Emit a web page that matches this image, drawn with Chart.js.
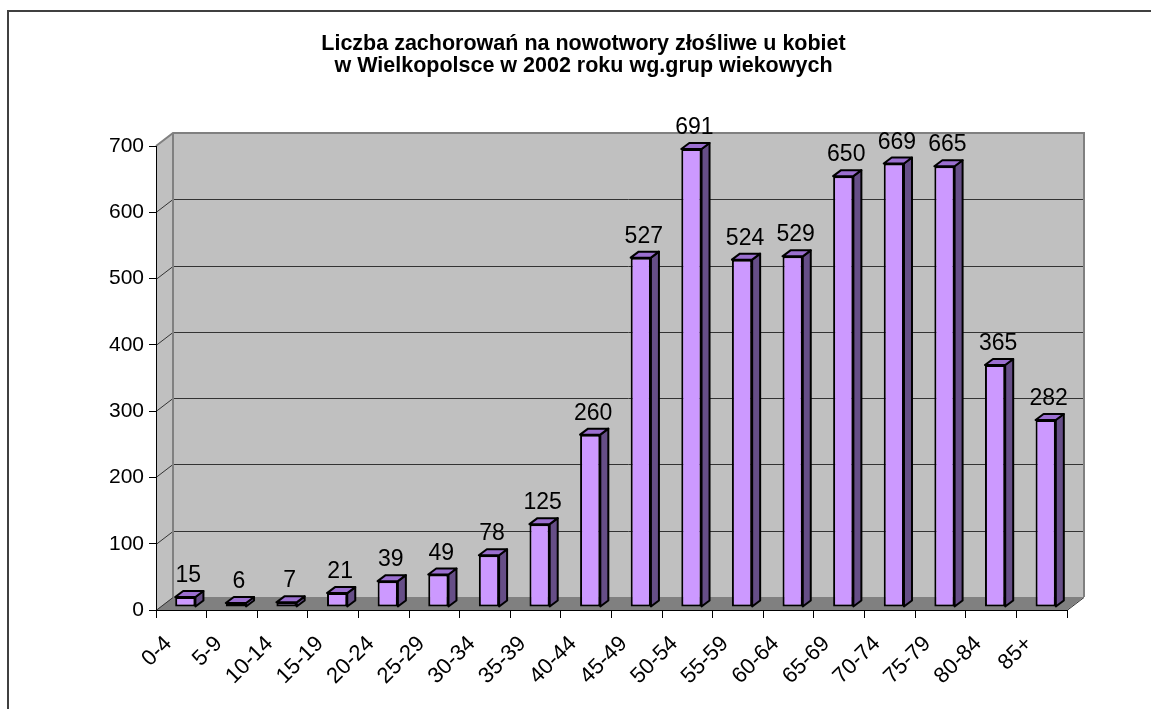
<!DOCTYPE html>
<html>
<head>
<meta charset="utf-8">
<script src="https://cdn.jsdelivr.net/npm/chart.js@4/dist/chart.umd.min.js"></script>
<style>
    html, body { margin: 0; padding: 0; background: #fff; overflow: hidden; }
    #wrap { position: relative; width: 1151px; height: 709px; }
    #frame { position: absolute; left: 7px; top: 10px; width: 1200px; height: 800px;
             border: 2px solid #404040; box-sizing: border-box; pointer-events: none; }
</style>
</head>
<body>
<div id="wrap">
    <canvas id="cancer-chart" width="1151" height="709"></canvas>
    <div id="frame"></div>
</div>
<script>
const ageGroups = ['0-4', '5-9', '10-14', '15-19', '20-24', '25-29', '30-34', '35-39', '40-44',
    '45-49', '50-54', '55-59', '60-64', '65-69', '70-74', '75-79', '80-84', '85+'];
const cases = [15, 6, 7, 21, 39, 49, 78, 125, 260, 527, 691, 524, 529, 650, 669, 665, 365, 282];
const titleLines = ['Liczba zachorowań na nowotwory złośliwe u kobiet',
    'w Wielkopolsce w 2002 roku wg.grup wiekowych'];

// depth of the 3d walls and of the bars
const WALL_DX = 17, WALL_DY = 13;
const BAR_X = 4, BAR_Y = 3;
const BAR_DX = 8, BAR_DY = 6;

function poly(ctx, pts) {
    ctx.beginPath();
    ctx.moveTo(pts[0][0], pts[0][1]);
    for (let i = 1; i < pts.length; i++) ctx.lineTo(pts[i][0], pts[i][1]);
    ctx.closePath();
}

const walls3d = {
    id: 'walls3d',
    beforeDraw(chart) {
        const { ctx, chartArea: a, scales: { y } } = chart;
        const L = a.left, R = a.right, T = a.top, B = a.bottom;
        ctx.save();
        ctx.fillStyle = '#c0c0c0';
        ctx.fillRect(L + WALL_DX, T - WALL_DY, R - L, B - T);
        poly(ctx, [[L, T], [L + WALL_DX, T - WALL_DY], [L + WALL_DX, B - WALL_DY], [L, B]]);
        ctx.fill();
        ctx.fillStyle = '#808080';
        poly(ctx, [[L, B], [R, B], [R + WALL_DX, B - WALL_DY], [L + WALL_DX, B - WALL_DY]]);
        ctx.fill();

        ctx.strokeStyle = '#333';
        ctx.lineWidth = 1;
        y.ticks.forEach(t => {
            if (t.value === y.max) return;
            const py = Math.round(y.getPixelForValue(t.value)) + 0.5;
            ctx.beginPath();
            ctx.moveTo(L, py);
            ctx.lineTo(L + WALL_DX, py - WALL_DY);
            if (t.value > 0) ctx.lineTo(R + WALL_DX, py - WALL_DY);
            ctx.stroke();
        });
        ctx.beginPath();
        ctx.moveTo(R, B + 0.5);
        ctx.lineTo(R + WALL_DX, B - WALL_DY + 0.5);
        ctx.stroke();

        ctx.strokeStyle = '#808080';
        ctx.lineWidth = 2;
        ctx.beginPath();
        ctx.moveTo(L, T);
        ctx.lineTo(L + WALL_DX, T - WALL_DY);
        ctx.lineTo(R + WALL_DX, T - WALL_DY);
        ctx.lineTo(R + WALL_DX, B - WALL_DY);
        ctx.moveTo(L + WALL_DX, T - WALL_DY);
        ctx.lineTo(L + WALL_DX, B - WALL_DY);
        ctx.stroke();
        ctx.restore();
    },
    beforeDatasetDraw(chart, args) {
        const ctx = chart.ctx;
        ctx.save();
        ctx.translate(BAR_X, -BAR_Y);
        ctx.lineWidth = 2;
        ctx.lineJoin = 'round';
        ctx.strokeStyle = '#000';
        args.meta.data.forEach(bar => {
            const l = bar.x - bar.width / 2, r = bar.x + bar.width / 2;
            const top = bar.y, base = bar.base;
            ctx.fillStyle = '#664e87';
            poly(ctx, [[r, top], [r + BAR_DX, top - BAR_DY], [r + BAR_DX, base - BAR_DY], [r, base]]);
            ctx.fill();
            ctx.stroke();
            ctx.fillStyle = '#9b6fd0';
            poly(ctx, [[l, top], [l + BAR_DX, top - BAR_DY], [r + BAR_DX, top - BAR_DY], [r, top]]);
            ctx.fill();
            ctx.stroke();
        });
    },
    afterDatasetDraw(chart) {
        chart.ctx.restore();
    },
    afterDatasetsDraw(chart) {
        const ctx = chart.ctx;
        const meta = chart.getDatasetMeta(0);
        ctx.save();
        ctx.font = '23px Arial, "Liberation Sans", sans-serif';
        ctx.fillStyle = '#000';
        ctx.textAlign = 'center';
        ctx.textBaseline = 'alphabetic';
        meta.data.forEach((bar, i) => {
            const x = bar.x + BAR_X + 3;
            const y = bar.y - BAR_Y - BAR_DY - 9;
            ctx.fillText(String(cases[i]), x, y);
        });
        ctx.restore();
    }
};

function initChart() {
    const ctx = document.getElementById('cancer-chart').getContext('2d');
    Chart.defaults.font.family = 'Arial, "Liberation Sans", sans-serif';
    Chart.defaults.color = '#000';
    new Chart(ctx, {
        type: 'bar',
        data: {
            labels: ageGroups,
            datasets: [{
                data: cases,
                backgroundColor: '#cc99ff',
                borderColor: '#000',
                borderWidth: 2,
                borderSkipped: false,
                barPercentage: 0.4,
                categoryPercentage: 1.0,
                clip: false
            }]
        },
        options: {
            responsive: false,
            animation: false,
            devicePixelRatio: 1,
            layout: { padding: { left: 100, right: 84, top: 0, bottom: 0 } },
            plugins: {
                legend: { display: false },
                tooltip: { enabled: false },
                title: {
                    display: true,
                    text: titleLines,
                    color: '#000',
                    font: { size: 21.5, weight: 'bold', lineHeight: '22px' },
                    padding: { top: 33, bottom: 69 }
                }
            },
            scales: {
                x: {
                    afterFit: s => { s.height = 99; },
                    grid: { drawOnChartArea: false, drawTicks: true, tickLength: 8, color: '#000' },
                    border: { display: true, color: '#000', width: 1 },
                    ticks: { font: { size: 22 }, minRotation: 45, maxRotation: 45, autoSkip: false,
                             padding: 13, labelOffset: -13 }
                },
                y: {
                    min: 0,
                    max: 700,
                    afterFit: s => { s.width = 56; },
                    grid: { drawOnChartArea: false, drawTicks: true, tickLength: 7, color: '#000' },
                    border: { display: true, color: '#000', width: 1 },
                    ticks: { stepSize: 100, font: { size: 21 }, padding: 5 }
                }
            }
        },
        plugins: [walls3d]
    });
}

document.addEventListener('DOMContentLoaded', () => {
    initChart();
});
</script>
</body>
</html>
